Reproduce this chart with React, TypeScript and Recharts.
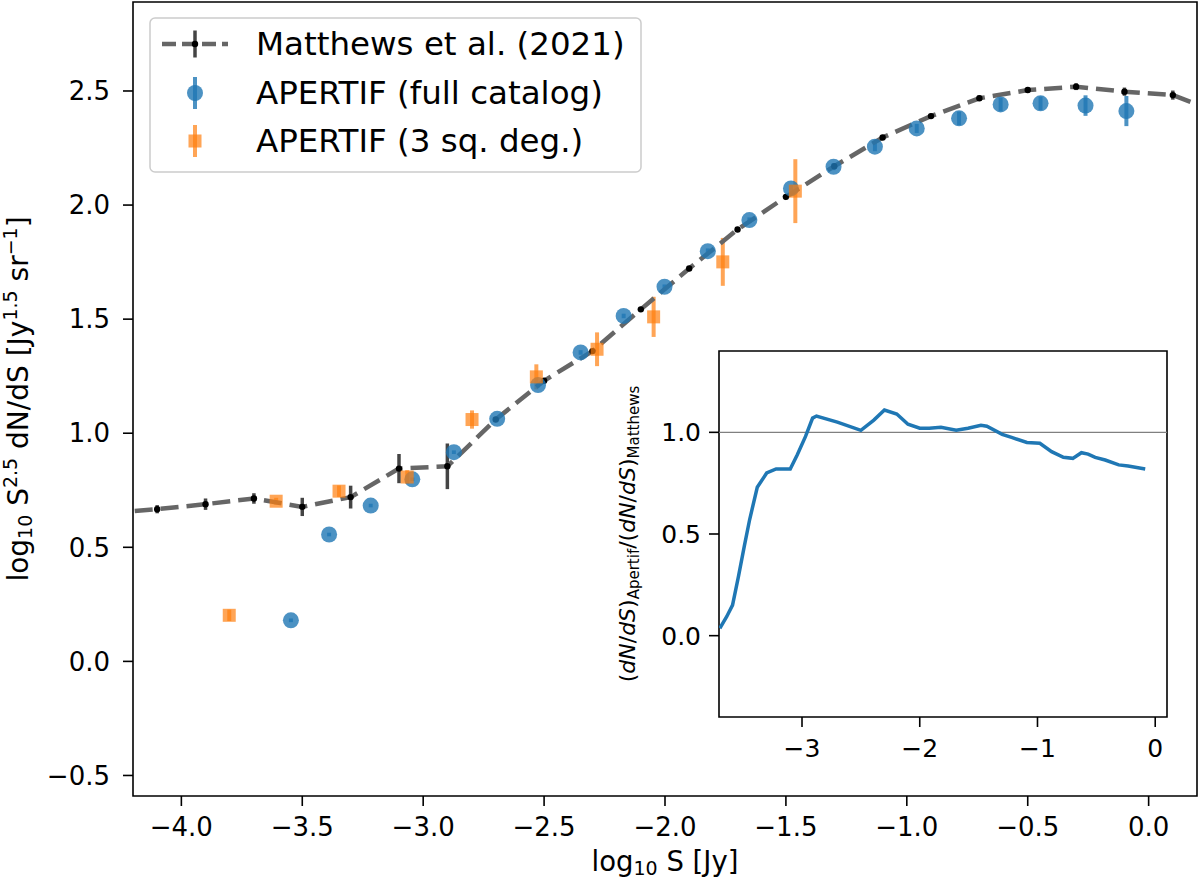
import React from 'react';
import {
  ComposedChart,
  LineChart,
  Line,
  Scatter,
  XAxis,
  YAxis,
  ErrorBar,
  ReferenceArea,
  ReferenceLine,
} from 'recharts';

const FONT = '"DejaVu Sans", sans-serif';
const BLUE = '#1f77b4';
const ORANGE = '#ff7f0e';

// Matthews et al. (2021) counts (first and last point fall just outside the axes)
const matthewsLogS = [-4.3, -4.1, -3.9, -3.7, -3.5, -3.3, -3.1, -2.9, -2.7, -2.5, -2.3, -2.1, -1.9, -1.7, -1.5, -1.3, -1.1, -0.9, -0.7, -0.5, -0.3, -0.1, 0.1, 0.3];
const matthewsCounts = [0.65, 0.667, 0.689, 0.714, 0.677, 0.72, 0.845, 0.855, 1.06, 1.23, 1.36, 1.543, 1.722, 1.893, 2.036, 2.17, 2.296, 2.39, 2.468, 2.504, 2.519, 2.497, 2.482, 2.4];
const matthewsErr = [0, 0.018, 0.025, 0.023, 0.04, 0.05, 0.064, 0.1, 0.01, 0.01, 0.01, 0.01, 0.01, 0.01, 0.01, 0.01, 0.01, 0.01, 0.012, 0.012, 0.015, 0.018, 0.02, 0];

// APERTIF full catalog
const fullLogS = [-3.547, -3.389, -3.217, -3.045, -2.873, -2.694, -2.525, -2.349, -2.171, -2.002, -1.823, -1.651, -1.479, -1.303, -1.132, -0.959, -0.784, -0.612, -0.447, -0.261, -0.092];
const fullCounts = [0.18, 0.556, 0.683, 0.798, 0.917, 1.063, 1.211, 1.354, 1.514, 1.642, 1.798, 1.934, 2.073, 2.168, 2.256, 2.336, 2.38, 2.441, 2.446, 2.436, 2.412];
const fullErr = [0.008, 0.008, 0.008, 0.008, 0.008, 0.008, 0.01, 0.01, 0.01, 0.01, 0.012, 0.012, 0.015, 0.015, 0.02, 0.02, 0.03, 0.03, 0.03, 0.045, 0.066];

// APERTIF 3 sq. deg. field
const sqLogS = [-3.802, -3.608, -3.348, -3.066, -2.798, -2.532, -2.281, -2.047, -1.761, -1.461];
const sqCounts = [0.202, 0.702, 0.746, 0.808, 1.06, 1.247, 1.368, 1.51, 1.751, 2.061];
const sqErr = [0.025, 0.015, 0.025, 0.03, 0.04, 0.055, 0.074, 0.088, 0.105, 0.14];

// inset: ratio of APERTIF to Matthews
const ratioLogS = [-3.698, -3.64, -3.59, -3.54, -3.49, -3.445, -3.38, -3.3, -3.22, -3.1, -3.04, -2.97, -2.91, -2.877, -2.7, -2.5, -2.39, -2.3, -2.195, -2.1, -2.0, -1.92, -1.82, -1.69, -1.59, -1.48, -1.43, -1.3, -1.22, -1.09, -0.98, -0.88, -0.78, -0.7, -0.627, -0.57, -0.51, -0.425, -0.31, -0.23, -0.085];
const ratioVal = [0.036, 0.093, 0.15, 0.29, 0.44, 0.57, 0.73, 0.8, 0.82, 0.82, 0.89, 0.98, 1.07, 1.08, 1.05, 1.01, 1.06, 1.11, 1.09, 1.04, 1.02, 1.02, 1.025, 1.01, 1.02, 1.035, 1.03, 0.99, 0.975, 0.95, 0.946, 0.905, 0.877, 0.872, 0.9, 0.893, 0.877, 0.864, 0.84, 0.834, 0.82];

const xTicks = [-4, -3.5, -3, -2.5, -2, -1.5, -1, -0.5, 0];
const yTicks = [-0.5, 0, 0.5, 1, 1.5, 2, 2.5];
const insetXTicks = [-3, -2, -1, 0];
const insetYTicks = [0, 0.5, 1];

const xDomain = [-4.2, 0.2];
const yDomain = [-0.59, 2.89];
const insetXDomain = [-3.705, 0.1];
const insetYDomain = [-0.4, 1.4];

const zip = (xs: number[], ys: number[], es?: number[]) =>
  xs.map((x, i) => ({ x, y: ys[i], err: es ? es[i] : 0 }));

const matthewsData = zip(matthewsLogS, matthewsCounts, matthewsErr);
const fullData = zip(fullLogS, fullCounts, fullErr);
const sqData = zip(sqLogS, sqCounts, sqErr);
const ratioData = zip(ratioLogS, ratioVal);

const minus = (s: string) => s.replace('-', '\u2212');
const fmt1 = (v: number) => minus(v.toFixed(1));
const fmt0 = (v: number) => minus(v.toFixed(0));

const tickStyle = { fill: '#000', fontSize: 26, fontFamily: FONT };
const insetTickStyle = { fill: '#000', fontSize: 25, fontFamily: FONT };
const tickLine = { stroke: '#000', strokeWidth: 1.6 };

const inXRange = (x: number) => x >= xDomain[0] && x <= xDomain[1];

const XLabel = (props: any) => {
  const vb = props.viewBox || { x: 133, y: 796, width: 1064, height: 85 };
  const cx = vb.x + vb.width / 2;
  return (
    <text x={cx} y={vb.y + 75} textAnchor="middle" fontSize={27.5} fontFamily={FONT} fill="#000">
      log<tspan dy={4} fontSize={19}>10</tspan>
      <tspan dy={-4}> S [Jy]</tspan>
    </text>
  );
};

const YLabel = (props: any) => {
  const vb = props.viewBox || { x: 0, y: 2, width: 133, height: 794 };
  const bx = vb.x + 28;
  const cy = vb.y + vb.height / 2;
  return (
    <text
      x={bx}
      y={cy}
      transform={`rotate(-90, ${bx}, ${cy})`}
      textAnchor="middle"
      fontSize={28}
      fontFamily={FONT}
      fill="#000"
    >
      log<tspan dy={4} fontSize={19}>10</tspan>
      <tspan dy={-4}> S</tspan>
      <tspan dy={-11} fontSize={19}>2.5</tspan>
      <tspan dy={11}> dN/dS [Jy</tspan>
      <tspan dy={-11} fontSize={19}>1.5</tspan>
      <tspan dy={11}> sr</tspan>
      <tspan dy={-11} fontSize={19}>{'\u22121'}</tspan>
      <tspan dy={11}>]</tspan>
    </text>
  );
};

const InsetYLabel = (props: any) => {
  const vb = props.viewBox || { x: 0, y: 11, width: 119, height: 366 };
  const bx = vb.x + 35;
  const cy = vb.y + vb.height / 2;
  return (
    <text
      x={bx}
      y={cy}
      transform={`rotate(-90, ${bx}, ${cy})`}
      textAnchor="middle"
      fontSize={22}
      fontFamily={FONT}
      fill="#000"
    >
      (<tspan fontStyle="italic">dN</tspan>/<tspan fontStyle="italic">dS</tspan>)
      <tspan dy={4} fontSize={15}>Apertif</tspan>
      <tspan dy={-4}>/(</tspan>
      <tspan fontStyle="italic">dN</tspan>/<tspan fontStyle="italic">dS</tspan>)
      <tspan dy={4} fontSize={15}>Matthews</tspan>
    </text>
  );
};

const MatthewsDot = (p: any) =>
  p.payload && inXRange(p.payload.x) ? <circle cx={p.cx} cy={p.cy} r={3.2} fill="#000" /> : <g />;
const FullDot = (p: any) => <circle cx={p.cx} cy={p.cy} r={8} fill={BLUE} fillOpacity={0.8} />;
const SqDot = (p: any) => (
  <rect x={p.cx - 6.5} y={p.cy - 6.5} width={13} height={13} fill={ORANGE} fillOpacity={0.7} />
);

const legendItems = [
  { label: 'Matthews et al. (2021)', kind: 'matthews' },
  { label: 'APERTIF (full catalog)', kind: 'full' },
  { label: 'APERTIF (3 sq. deg.)', kind: 'sq' },
];

const LegendBox = () => {
  const rowY = [44, 93, 141];
  const hx = 195;
  return (
    <svg width={1200} height={881} style={{ position: 'absolute', left: 0, top: 0, pointerEvents: 'none' }}>
      <rect x={150} y={18} width={491} height={154} rx={5} fill="#fff" fillOpacity={0.8} stroke="#cccccc" strokeWidth={1.5} />
      {legendItems.map((it, i) => {
        const cy = rowY[i];
        return (
          <g key={it.kind}>
            {it.kind === 'matthews' && (
              <g>
                <line x1={162} y1={cy} x2={228} y2={cy} stroke="#666" strokeWidth={4.5} strokeDasharray="14 6" />
                <line x1={hx} y1={cy - 13.5} x2={hx} y2={cy + 13.5} stroke="#444" strokeWidth={3.5} />
                <circle cx={hx} cy={cy} r={3.2} fill="#000" />
              </g>
            )}
            {it.kind === 'full' && (
              <g>
                <line x1={hx} y1={cy - 16} x2={hx} y2={cy + 16} stroke={BLUE} strokeOpacity={0.8} strokeWidth={4} />
                <circle cx={hx} cy={cy} r={8} fill={BLUE} fillOpacity={0.8} />
              </g>
            )}
            {it.kind === 'sq' && (
              <g>
                <line x1={hx} y1={cy - 16} x2={hx} y2={cy + 16} stroke={ORANGE} strokeOpacity={0.7} strokeWidth={4} />
                <rect x={hx - 6.5} y={cy - 6.5} width={13} height={13} fill={ORANGE} fillOpacity={0.7} />
              </g>
            )}
            <text x={256} y={cy + 11} fontSize={32.5} fontFamily={FONT} fill="#000">
              {it.label}
            </text>
          </g>
        );
      })}
    </svg>
  );
};

const Inset = () => (
  <div style={{ position: 'absolute', left: 600, top: 340, width: 580, height: 440 }}>
    <LineChart width={580} height={440} data={ratioData} margin={{ top: 11, right: 13, bottom: 0, left: 0 }}>
      <XAxis
        dataKey="x"
        type="number"
        domain={insetXDomain}
        allowDataOverflow
        ticks={insetXTicks}
        interval={0}
        tickFormatter={fmt0}
        tick={insetTickStyle}
        tickLine={tickLine}
        tickSize={10}
        tickMargin={12}
        axisLine={false}
        height={63}
      />
      <YAxis
        dataKey="y"
        type="number"
        domain={insetYDomain}
        allowDataOverflow
        ticks={insetYTicks}
        interval={0}
        tickFormatter={fmt1}
        tick={insetTickStyle}
        tickLine={tickLine}
        tickSize={10}
        tickMargin={8}
        axisLine={false}
        width={119}
        label={{ content: (p: any) => <InsetYLabel {...p} /> }}
      />
      <ReferenceArea x1={insetXDomain[0]} x2={insetXDomain[1]} y1={insetYDomain[0]} y2={insetYDomain[1]} fill="#fff" fillOpacity={0} stroke="#000" strokeWidth={1.6} />
      <ReferenceLine y={1} stroke="#808080" strokeWidth={1.2} />
      <Line dataKey="y" type="linear" stroke={BLUE} strokeWidth={3.5} dot={false} isAnimationActive={false} />
    </LineChart>
  </div>
);

export default function App() {
  return (
    <div style={{ position: 'absolute', left: 0, top: 0, width: 1200, height: 881, background: '#fff' }}>
      <ComposedChart width={1200} height={881} margin={{ top: 2, right: 3, bottom: 0, left: 0 }}>
        <XAxis
          dataKey="x"
          type="number"
          domain={xDomain}
          allowDataOverflow
          ticks={xTicks}
          interval={0}
          tickFormatter={fmt1}
          tick={tickStyle}
          tickLine={tickLine}
          tickSize={10}
          tickMargin={12}
          axisLine={false}
          height={85}
          label={{ content: (p: any) => <XLabel {...p} /> }}
        />
        <YAxis
          dataKey="y"
          type="number"
          domain={yDomain}
          allowDataOverflow
          ticks={yTicks}
          interval={0}
          tickFormatter={fmt1}
          tick={tickStyle}
          tickLine={tickLine}
          tickSize={10}
          tickMargin={13}
          axisLine={false}
          width={133}
          label={{ content: (p: any) => <YLabel {...p} /> }}
        />
        <ReferenceArea x1={xDomain[0]} x2={xDomain[1]} y1={yDomain[0]} y2={yDomain[1]} fill="#fff" fillOpacity={0} stroke="#000" strokeWidth={1.6} />
        <Scatter
          name="Matthews et al. (2021)"
          data={matthewsData}
          line={{ stroke: '#666666', strokeWidth: 4.5, strokeDasharray: '18 8' }}
          lineType="joint"
          shape={MatthewsDot}
          isAnimationActive={false}
        >
          <ErrorBar dataKey="err" direction="y" width={0} stroke="#444" strokeWidth={3.5} />
        </Scatter>
        <Scatter name="APERTIF (full catalog)" data={fullData} shape={FullDot} isAnimationActive={false}>
          <ErrorBar dataKey="err" direction="y" width={0} stroke={BLUE} strokeOpacity={0.8} strokeWidth={4} />
        </Scatter>
        <Scatter name="APERTIF (3 sq. deg.)" data={sqData} shape={SqDot} isAnimationActive={false}>
          <ErrorBar dataKey="err" direction="y" width={0} stroke={ORANGE} strokeOpacity={0.7} strokeWidth={4} />
        </Scatter>
      </ComposedChart>
      <LegendBox />
      <Inset />
    </div>
  );
}
